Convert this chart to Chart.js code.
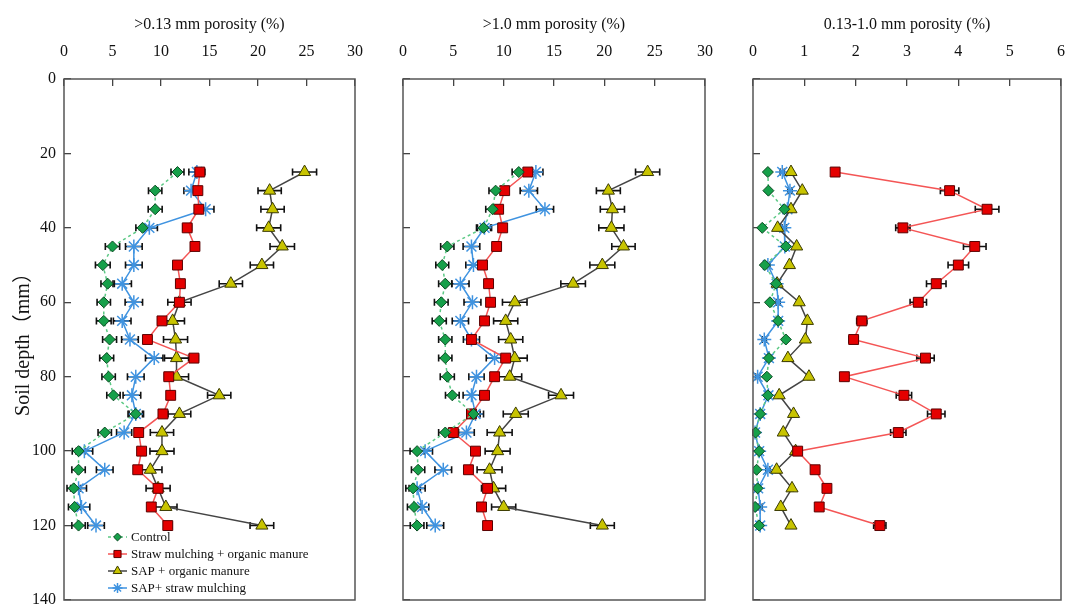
<!DOCTYPE html>
<html>
<head>
<meta charset="utf-8">
<script src="https://cdn.jsdelivr.net/npm/chart.js@4/dist/chart.umd.min.js"></script>
<style>
  html, body { margin: 0; padding: 0; background: #fff; }
  #wrap { position: relative; width: 1067px; height: 606px; overflow: hidden; background: #fff; }
  #wrap canvas { position: absolute; left: 0; top: 0; }
</style>
</head>
<body>
<div id="wrap">
  <canvas id="c1" width="1067" height="606"></canvas>
  <canvas id="c2" width="1067" height="606"></canvas>
  <canvas id="c3" width="1067" height="606"></canvas>
</div>
<script>
// Sampling depths (mm)
const depths = [25, 30, 35, 40, 45, 50, 55, 60, 65, 70, 75, 80, 85, 90, 95, 100, 105, 110, 115, 120];

// Axis tick labels
const depthTicks = [0, 20, 40, 60, 80, 100, 120, 140];
const coarseTicks = [0, 5, 10, 15, 20, 25, 30];
const fineTicks = [0, 1, 2, 3, 4, 5, 6];

const seriesNames = ['Control', 'Straw mulching + organic manure', 'SAP + organic manure', 'SAP+ straw mulching'];
const panelTitles = ['>0.13 mm porosity (%)', '>1.0 mm porosity (%)', '0.13-1.0 mm porosity (%)'];

// >0.13 mm porosity (%)
const control13 = [11.7, 9.4, 9.4, 8.1, 5.0, 4.0, 4.5, 4.1, 4.1, 4.7, 4.4, 4.6, 5.1, 7.4, 4.2, 1.5, 1.5, 1.0, 1.1, 1.5];
const strawOM13 = [14.0, 13.8, 13.9, 12.7, 13.5, 11.7, 12.0, 11.9, 10.1, 8.6, 13.4, 10.8, 11.0, 10.2, 7.7, 8.0, 7.6, 9.7, 9.0, 10.7];
const sapOM13 = [24.8, 21.2, 21.5, 21.1, 22.5, 20.4, 17.2, 11.9, 11.2, 11.5, 11.6, 11.6, 16.0, 11.9, 10.1, 10.1, 8.9, 9.7, 10.5, 20.4];
const sapStraw13 = [13.7, 13.1, 14.6, 8.8, 7.2, 7.2, 6.0, 7.2, 6.0, 6.8, 9.3, 7.4, 7.0, 7.4, 6.2, 2.1, 4.2, 1.5, 1.8, 3.3];
const control13Err = [0.67, 0.69, 0.72, 0.69, 0.74, 0.76, 0.69, 0.69, 0.76, 0.72, 0.72, 0.69, 0.69, 0.69, 0.69, 0.65, 0.69, 0.69, 0.64, 0.69];
const strawOM13Err = [0.4, 0.35, 0.4, 0.45, 0.4, 0.35, 0.4, 0.4, 0.35, 0.4, 0.45, 0.35, 0.4, 0.35, 0.4, 0.35, 0.35, 0.4, 0.35, 0.4];
const sapOM13Err = [1.24, 1.2, 1.2, 1.24, 1.26, 1.2, 1.2, 1.2, 1.22, 1.24, 1.24, 1.24, 1.2, 1.17, 1.2, 1.24, 1.2, 1.24, 1.15, 1.22];
const sapStraw13Err = [0.83, 0.74, 0.86, 0.83, 0.86, 0.86, 0.95, 0.9, 0.91, 0.86, 0.9, 0.86, 0.91, 0.8, 0.78, 0.86, 0.86, 0.82, 0.86, 0.86];

// >1.0 mm porosity (%)
const control10 = [11.5, 9.2, 8.9, 8.0, 4.4, 3.9, 4.2, 3.8, 3.6, 4.2, 4.2, 4.4, 4.9, 7.0, 4.2, 1.4, 1.5, 1.0, 1.1, 1.4];
const strawOM10 = [12.4, 10.1, 9.5, 9.9, 9.3, 7.9, 8.5, 8.7, 8.1, 6.8, 10.2, 9.1, 8.1, 6.8, 5.0, 7.2, 6.5, 8.4, 7.8, 8.4];
const sapOM10 = [24.3, 20.4, 20.8, 20.7, 21.9, 19.8, 16.9, 11.1, 10.2, 10.7, 11.1, 10.6, 15.7, 11.2, 9.6, 9.4, 8.6, 9.0, 10.0, 19.8];
const sapStraw10 = [13.2, 12.5, 14.1, 8.1, 6.8, 7.0, 5.7, 6.9, 5.7, 6.8, 9.1, 7.3, 6.8, 7.2, 6.3, 2.2, 4.0, 1.4, 1.9, 3.2];
const control10Err = [0.66, 0.66, 0.68, 0.7, 0.66, 0.64, 0.66, 0.68, 0.7, 0.66, 0.66, 0.7, 0.68, 0.66, 0.66, 0.7, 0.66, 0.72, 0.66, 0.68];
const strawOM10Err = [0.4, 0.35, 0.4, 0.35, 0.4, 0.35, 0.4, 0.35, 0.4, 0.35, 0.4, 0.35, 0.4, 0.35, 0.4, 0.35, 0.4, 0.35, 0.4, 0.35];
const sapOM10Err = [1.2, 1.19, 1.2, 1.25, 1.16, 1.24, 1.22, 1.22, 1.2, 1.2, 1.24, 1.19, 1.24, 1.24, 1.24, 1.24, 1.24, 1.2, 1.2, 1.19];
const sapStraw10Err = [0.7, 0.86, 0.86, 0.7, 0.83, 0.76, 0.86, 0.84, 0.81, 0.8, 0.83, 0.76, 0.83, 0.8, 0.78, 0.73, 0.83, 0.8, 0.66, 0.84];

// 0.13-1.0 mm porosity (%)
const controlMid = [0.29, 0.30, 0.61, 0.18, 0.64, 0.23, 0.45, 0.33, 0.49, 0.64, 0.31, 0.27, 0.29, 0.14, 0.05, 0.12, 0.07, 0.09, 0.04, 0.12];
const strawOMMid = [1.60, 3.83, 4.56, 2.92, 4.32, 4.00, 3.57, 3.22, 2.12, 1.96, 3.36, 1.78, 2.94, 3.57, 2.83, 0.87, 1.21, 1.44, 1.29, 2.47];
const sapOMMid = [0.74, 0.96, 0.74, 0.48, 0.85, 0.71, 0.47, 0.90, 1.06, 1.02, 0.68, 1.09, 0.51, 0.79, 0.59, 0.83, 0.46, 0.76, 0.54, 0.74];
const sapStrawMid = [0.57, 0.72, 0.67, 0.61, 0.62, 0.29, 0.46, 0.49, 0.49, 0.22, 0.31, 0.09, 0.30, 0.14, 0.04, 0.12, 0.29, 0.10, 0.14, 0.14];
const controlMidErr = [0.02, 0.02, 0.02, 0.02, 0.02, 0.02, 0.02, 0.02, 0.02, 0.02, 0.02, 0.02, 0.02, 0.02, 0.02, 0.02, 0.02, 0.02, 0.02, 0.02];
const strawOMMidErr = [0.03, 0.18, 0.23, 0.14, 0.22, 0.2, 0.19, 0.16, 0.1, 0.09, 0.17, 0.07, 0.15, 0.17, 0.15, 0.05, 0.05, 0.05, 0.05, 0.12];
const sapOMMidErr = [0.02, 0.02, 0.02, 0.02, 0.02, 0.02, 0.02, 0.02, 0.02, 0.02, 0.02, 0.02, 0.02, 0.02, 0.02, 0.02, 0.02, 0.02, 0.02, 0.02];
const sapStrawMidErr = [0.04, 0.04, 0.04, 0.04, 0.04, 0.04, 0.04, 0.04, 0.04, 0.04, 0.04, 0.04, 0.04, 0.04, 0.04, 0.04, 0.04, 0.04, 0.04, 0.04];

const SERIF = "'Liberation Serif', 'Times New Roman', 'Noto Sans CJK SC', serif";

// Marker and line styling for each treatment
const seriesStyles = [
  { borderColor: '#5cc985', borderDash: [3, 3], pointStyle: 'rectRot', pointRadius: 5.5,
    pointBackgroundColor: '#16a04a', pointBorderColor: '#0b4a22' },
  { borderColor: '#f45555', borderDash: [], pointStyle: 'rect', pointRadius: 7,
    pointBackgroundColor: '#e50000', pointBorderColor: '#5a0000' },
  { borderColor: '#444444', borderDash: [], pointStyle: 'triangle', pointRadius: 7,
    pointBackgroundColor: '#c8c400', pointBorderColor: '#3a3a00' },
  { borderColor: '#3f93e0', borderDash: [], pointStyle: 'star', pointRadius: 7,
    pointBackgroundColor: '#3f93e0', pointBorderColor: '#3f93e0' }
];

function toPoints(values) {
  return values.map((v, i) => ({ x: v, y: depths[i] }));
}

function makeDatasets(valueSets, errSets) {
  return valueSets.map((vals, k) => Object.assign({
    label: seriesNames[k],
    data: toPoints(vals),
    errX: errSets[k],
    showLine: true,
    tension: 0,
    borderWidth: 1.5,
    pointBorderWidth: k === 3 ? 1.5 : 1,
    pointHoverRadius: 7
  }, seriesStyles[k]));
}

// Keep the plot box fixed: no extra room for overhanging tick labels
function clearScalePadding(s) {
  s.paddingLeft = 0; s.paddingRight = 0; s.paddingTop = 0; s.paddingBottom = 0;
}

// Horizontal error bars with caps, drawn under the markers
const errorBars = {
  id: 'errorBars',
  beforeDatasetsDraw(chart) {
    const ctx = chart.ctx, xs = chart.scales.x, ys = chart.scales.y;
    ctx.save();
    ctx.strokeStyle = '#111';
    ctx.lineWidth = 1.6;
    chart.data.datasets.forEach(ds => {
      const err = ds.errX;
      if (!err) return;
      ds.data.forEach((p, i) => {
        const y = ys.getPixelForValue(p.y);
        const x1 = xs.getPixelForValue(p.x - err[i]);
        const x2 = xs.getPixelForValue(p.x + err[i]);
        ctx.beginPath();
        ctx.moveTo(x1, y); ctx.lineTo(x2, y);
        ctx.moveTo(x1, y - 3.5); ctx.lineTo(x1, y + 3.5);
        ctx.moveTo(x2, y - 3.5); ctx.lineTo(x2, y + 3.5);
        ctx.stroke();
      });
    });
    ctx.restore();
  }
};

// Box around each panel
const frame = {
  id: 'frame',
  afterDraw(chart) {
    const { ctx, chartArea: a } = chart;
    ctx.save();
    ctx.strokeStyle = '#555';
    ctx.lineWidth = 1.5;
    ctx.strokeRect(a.left, a.top, a.right - a.left, a.bottom - a.top);
    ctx.restore();
  }
};

// Legend placed inside the lower-left corner of the first panel
const insetLegend = {
  id: 'insetLegend',
  afterDraw(chart) {
    const { ctx, chartArea: a } = chart;
    const x0 = a.left + 44, len = 19, top = a.bottom - 63, step = 17;
    ctx.save();
    chart.data.datasets.forEach((ds, i) => {
      const y = top + i * step;
      ctx.strokeStyle = ds.borderColor;
      ctx.lineWidth = 1.5;
      ctx.setLineDash(ds.borderDash || []);
      ctx.beginPath();
      ctx.moveTo(x0, y); ctx.lineTo(x0 + len, y);
      ctx.stroke();
      ctx.setLineDash([]);
      if (Chart.helpers && Chart.helpers.drawPoint) {
        ctx.fillStyle = ds.pointBackgroundColor;
        ctx.strokeStyle = ds.pointBorderColor;
        ctx.lineWidth = ds.pointBorderWidth;
        Chart.helpers.drawPoint(ctx, { pointStyle: ds.pointStyle, radius: ds.pointRadius * 0.72, rotation: 0, borderWidth: ds.pointBorderWidth }, x0 + len / 2, y);
      }
      ctx.fillStyle = '#111';
      ctx.font = '13px ' + SERIF;
      ctx.textBaseline = 'middle';
      ctx.textAlign = 'left';
      ctx.fillText(ds.label, x0 + 23, y + 1);
    });
    ctx.restore();
  }
};

function makePanel(id, opts) {
  const plugins = [errorBars, frame];
  if (opts.legend) plugins.push(insetLegend);
  return new Chart(document.getElementById(id), {
    type: 'scatter',
    data: { datasets: makeDatasets(opts.values, opts.errors) },
    plugins: plugins,
    options: {
      responsive: false,
      animation: false,
      devicePixelRatio: 1,
      layout: { autoPadding: false, padding: { left: opts.padLeft, right: opts.padRight, top: 0, bottom: 6 } },
      plugins: { legend: { display: false }, tooltip: { enabled: false } },
      scales: {
        x: {
          type: 'linear',
          position: 'top',
          min: opts.xTicks[0],
          max: opts.xTicks[opts.xTicks.length - 1],
          afterBuildTicks: s => { s.ticks = opts.xTicks.map(v => ({ value: v })); },
          afterFit: s => { s.height = 79; clearScalePadding(s); },
          border: { display: false },
          grid: { drawOnChartArea: false, drawTicks: true, tickLength: -7, color: '#444', lineWidth: 1.3 },
          ticks: { padding: 25, color: '#111', font: { family: SERIF, size: 16 }, maxRotation: 0 },
          title: { display: true, text: opts.title, color: '#111', font: { family: SERIF, size: 16, lineHeight: 1 }, padding: { top: 17, bottom: 0 } }
        },
        y: {
          type: 'linear',
          position: 'left',
          reverse: true,
          min: 0,
          max: 140,
          afterBuildTicks: s => { s.ticks = depthTicks.map(v => ({ value: v })); },
          afterFit: s => { s.width = opts.yWidth; clearScalePadding(s); },
          border: { display: false },
          grid: { drawOnChartArea: false, drawTicks: true, tickLength: -7, color: '#444', lineWidth: 1.3 },
          ticks: { display: opts.yLabels, padding: 15, color: '#111', font: { family: SERIF, size: 16 } },
          title: { display: opts.yLabels, text: 'Soil depth（mm）', color: '#111', font: { family: SERIF, size: 20, lineHeight: 1 }, padding: { top: 14, bottom: 0 } }
        }
      }
    }
  });
}

makePanel('c1', {
  title: panelTitles[0], xTicks: coarseTicks, legend: true, yLabels: true,
  padLeft: 0, padRight: 1067 - 355, yWidth: 64,
  values: [control13, strawOM13, sapOM13, sapStraw13],
  errors: [control13Err, strawOM13Err, sapOM13Err, sapStraw13Err]
});
makePanel('c2', {
  title: panelTitles[1], xTicks: coarseTicks, legend: false, yLabels: false,
  padLeft: 393, padRight: 1067 - 705, yWidth: 10,
  values: [control10, strawOM10, sapOM10, sapStraw10],
  errors: [control10Err, strawOM10Err, sapOM10Err, sapStraw10Err]
});
makePanel('c3', {
  title: panelTitles[2], xTicks: fineTicks, legend: false, yLabels: false,
  padLeft: 743, padRight: 1067 - 1061, yWidth: 10,
  values: [controlMid, strawOMMid, sapOMMid, sapStrawMid],
  errors: [controlMidErr, strawOMMidErr, sapOMMidErr, sapStrawMidErr]
});
</script>
</body>
</html>
